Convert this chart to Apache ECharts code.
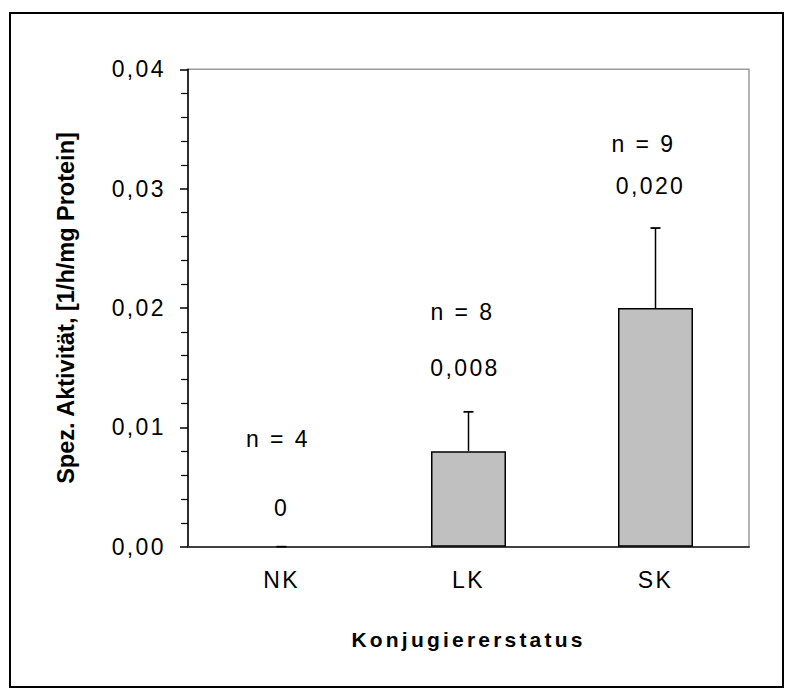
<!DOCTYPE html>
<html><head><meta charset="utf-8">
<script src="https://cdn.jsdelivr.net/npm/echarts@6/dist/echarts.min.js"></script>
<style>
html,body{margin:0;padding:0;background:#fff;}
#chart{width:792px;height:697px;}
#chart text{letter-spacing:2.4px;}
</style></head><body><div id="chart"></div>
<script>
// ---- data ----
const categories = ['NK', 'LK', 'SK'];
const meanValues = [0, 0.008, 0.020];
const errorValues = [0, 0.0033, 0.0067];
const nCounts = [4, 8, 9];
const valueLabels = ['0', '0,008', '0,020'];
const yTickLabels = ['0,00', '0,01', '0,02', '0,03', '0,04'];
const yTitle = 'Spez. Aktivität, [1/h/mg Protein]';
const xTitle = 'Konjugiererstatus';

// ---- presentation ----
const FONT = '"Liberation Sans", Arial, Helvetica, sans-serif';
// label placement above each error bar top (pixels)
const annotPlacement = [
  {vx: 0, vy: 38.7, nx: -3.5, ny: 107.7},
  {vx: -3.5, vy: 44, nx: -6, ny: 99.5},
  {vx: -5, vy: 41.8, nx: -12, ny: 84.2}
];

const chart = echarts.init(document.getElementById('chart'), null, {renderer: 'svg'});

const barData = meanValues.map(v => v === 0 ? {value: v, itemStyle: {borderWidth: 0}} : v);
const errData = categories.map((c, i) => [i, meanValues[i], errorValues[i]]);

const option = {
  animation: false,
  backgroundColor: '#fff',
  graphic: [{
    type: 'rect', shape: {x: 10, y: 13, width: 773, height: 674},
    style: {fill: 'none', stroke: '#000', lineWidth: 2}, z: 100, silent: true
  }],
  grid: {left: 188, right: 43, top: 69.3, bottom: 150.3, show: true,
    borderColor: '#9a9a9a', borderWidth: 1.5, backgroundColor: 'transparent'},
  xAxis: {
    type: 'category', data: categories,
    axisLine: {lineStyle: {color: '#404040', width: 2}},
    axisTick: {show: false},
    axisLabel: {color: '#000', fontSize: 23, fontFamily: FONT, margin: 22},
    name: xTitle, nameLocation: 'middle', nameGap: 82,
    nameTextStyle: {color: '#000', fontSize: 21, fontWeight: 'bold', fontFamily: FONT}
  },
  yAxis: {
    type: 'value', min: 0, max: 0.04, interval: 0.01,
    axisLine: {show: true, lineStyle: {color: '#000', width: 1.5}},
    axisTick: {show: true, length: 8, lineStyle: {color: '#000', width: 1.5}},
    minorTick: {show: true, splitNumber: 5, length: 7, lineStyle: {color: '#000', width: 1.2}},
    splitLine: {show: false},
    axisLabel: {color: '#000', fontSize: 23, fontFamily: FONT, margin: 22,
      formatter: v => yTickLabels[Math.round(v / 0.01)]},
    name: yTitle, nameLocation: 'middle', nameGap: 110,
    nameTextStyle: {color: '#000', fontSize: 23.5, fontWeight: 'bold', fontFamily: FONT}
  },
  series: [
    {
      type: 'bar', data: barData, barWidth: 75,
      itemStyle: {color: '#c0c0c0', borderColor: '#000', borderWidth: 1.5},
      z: 3
    },
    {
      type: 'custom', data: errData, z: 10,
      renderItem: (params, api) => {
        const i = api.value(0), v = api.value(1), e = api.value(2);
        const p0 = api.coord([i, v]);
        const p1 = api.coord([i, v + e]);
        return {type: 'group', children: [
          {type: 'line', shape: {x1: p0[0], y1: p0[1], x2: p1[0], y2: p1[1]},
            style: {stroke: '#000', lineWidth: 1.5}},
          {type: 'line', shape: {x1: p1[0] - 5, y1: p1[1], x2: p1[0] + 5, y2: p1[1]},
            style: {stroke: '#000', lineWidth: 1.8}}
        ]};
      }
    },
    {
      type: 'custom', data: errData, z: 11,
      renderItem: (params, api) => {
        const i = api.value(0), v = api.value(1), e = api.value(2);
        const p = api.coord([i, v + e]);
        const a = annotPlacement[i];
        return {type: 'group', children: [
          {type: 'text', x: p[0] + a.vx, y: p[1] - a.vy,
            style: {text: valueLabels[i], fill: '#000', fontSize: 23, fontFamily: FONT,
              align: 'center', verticalAlign: 'middle'}},
          {type: 'text', x: p[0] + a.nx, y: p[1] - a.ny,
            style: {text: 'n = ' + nCounts[i], fill: '#000', fontSize: 23, fontFamily: FONT,
              align: 'center', verticalAlign: 'middle'}}
        ]};
      }
    }
  ]
};
chart.setOption(option);

function fixSpacing() {
  document.querySelectorAll('#chart text').forEach(t => {
    if (t.textContent === yTitle && t.style.letterSpacing !== '0px') t.style.letterSpacing = '0px';
    if (t.textContent === xTitle && t.style.letterSpacing !== '3.2px') t.style.letterSpacing = '3.2px';
  });
}
chart.on('finished', fixSpacing);
const mo = new MutationObserver(fixSpacing);
mo.observe(document.getElementById('chart'), {subtree: true, childList: true, attributes: true, characterData: true});
fixSpacing();
setTimeout(fixSpacing, 0);
</script></body></html>
